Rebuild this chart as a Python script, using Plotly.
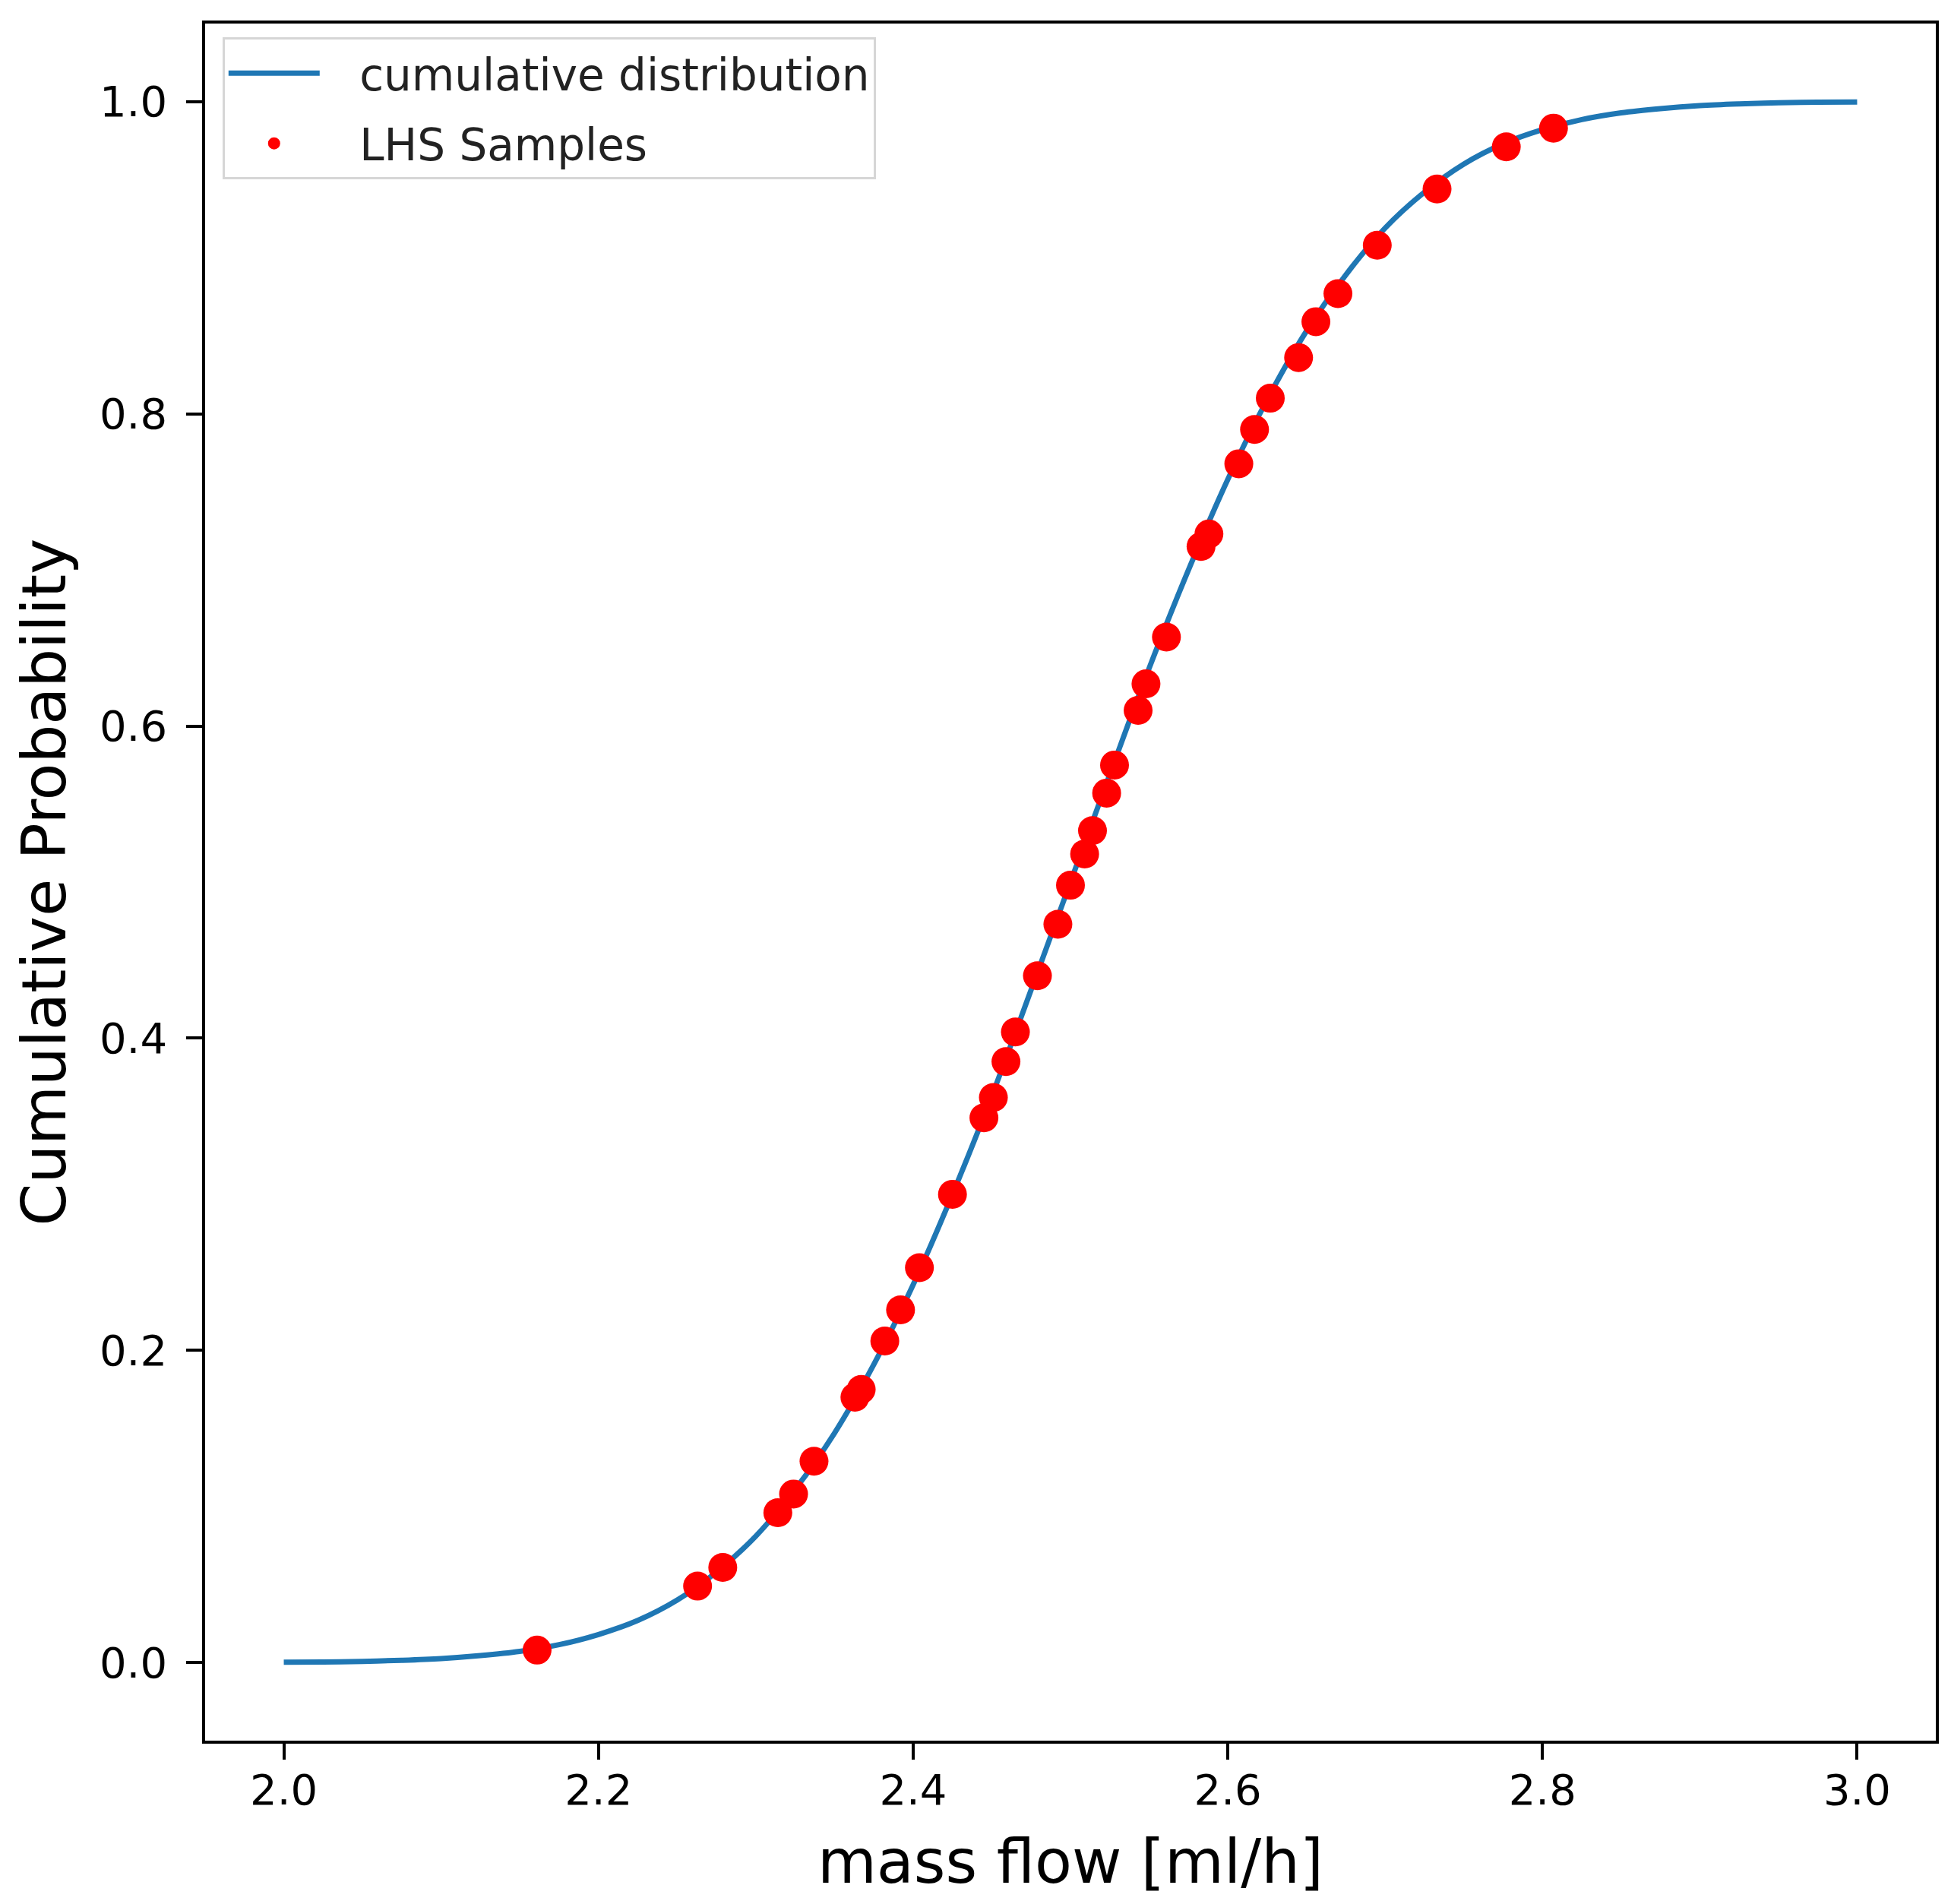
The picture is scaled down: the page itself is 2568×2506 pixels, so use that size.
import plotly.graph_objects as go

# Cumulative distribution curve
cdf_x = [2.000, 2.025, 2.050, 2.075, 2.100, 2.125, 2.150, 2.175, 2.200, 2.225,
         2.250, 2.275, 2.300, 2.325, 2.350, 2.375, 2.400, 2.425, 2.450, 2.475,
         2.500, 2.525, 2.550, 2.575, 2.600, 2.625, 2.650, 2.675, 2.700, 2.725,
         2.750, 2.775, 2.800, 2.825, 2.850, 2.875, 2.900, 2.925, 2.950, 2.975,
         3.000]
cdf_y = [0.0002, 0.0004, 0.0008, 0.0015, 0.0026, 0.0045, 0.0072, 0.0115, 0.018, 0.027,
         0.040, 0.058, 0.081, 0.111, 0.147, 0.191, 0.242, 0.300, 0.363, 0.431,
         0.500, 0.569, 0.637, 0.700, 0.758, 0.809, 0.853, 0.889, 0.919, 0.942,
         0.960, 0.973, 0.982, 0.9885, 0.9928, 0.9955, 0.9974, 0.9985, 0.9992, 0.9996,
         0.9998]

# LHS samples
lhs_x = [2.161, 2.263, 2.279, 2.314, 2.324, 2.337, 2.363, 2.367, 2.382, 2.392,
         2.404, 2.425, 2.445, 2.451, 2.459, 2.465, 2.479, 2.492, 2.500, 2.509,
         2.514, 2.523, 2.528, 2.543, 2.548, 2.561, 2.583, 2.588, 2.607, 2.617,
         2.627, 2.645, 2.656, 2.670, 2.695, 2.733, 2.777, 2.807]
lhs_y = [0.008, 0.049, 0.061, 0.096, 0.108, 0.129, 0.170, 0.175, 0.206, 0.226,
         0.253, 0.300, 0.349, 0.362, 0.385, 0.404, 0.440, 0.473, 0.498, 0.518,
         0.533, 0.557, 0.575, 0.610, 0.627, 0.657, 0.715, 0.723, 0.768, 0.790,
         0.810, 0.836, 0.859, 0.877, 0.908, 0.944, 0.971, 0.983]

x_ticks = [2.0, 2.2, 2.4, 2.6, 2.8, 3.0]
x_tick_labels = ["2.0", "2.2", "2.4", "2.6", "2.8", "3.0"]
y_ticks = [0.0, 0.2, 0.4, 0.6, 0.8, 1.0]
y_tick_labels = ["0.0", "0.2", "0.4", "0.6", "0.8", "1.0"]

FONT = "DejaVu Sans"
GAP = "\u2002\u00a0"  # gap between legend symbol and label

fig = go.Figure()
fig.add_trace(go.Scatter(
    x=cdf_x, y=cdf_y, mode="lines", name=GAP + "cumulative distribution",
    legendgroup="a",
    line=dict(color="#1f77b4", width=7, shape="spline"),
))
fig.add_trace(go.Scatter(
    x=lhs_x, y=lhs_y, mode="markers", name=GAP + "LHS Samples",
    legendgroup="b",
    marker=dict(color="#ff0000", size=38, line=dict(width=0)),
))

axis_common = dict(
    showgrid=False, zeroline=False, showline=True, linecolor="black", linewidth=3.5,
    mirror=True, ticks="outside", ticklen=21, tickwidth=3.5, tickcolor="black",
    tickfont=dict(family=FONT, size=56, color="black"),
)

fig.update_layout(
    width=2568, height=2506,
    margin=dict(l=262, r=28, t=23, b=223),
    paper_bgcolor="white", plot_bgcolor="white",
    font=dict(family=FONT, color="black"),
    showlegend=True,
    legend=dict(
        x=0.01, y=0.992, xanchor="left", yanchor="top",
        bgcolor="white", bordercolor="#d6d6d6", borderwidth=3,
        font=dict(family=FONT, size=58, color="#222222"),
        itemwidth=120, itemsizing="trace",
        traceorder="grouped", tracegroupgap=14,
    ),
    xaxis=dict(
        range=[1.95, 3.05], tickvals=x_ticks, ticktext=x_tick_labels,
        ticklabelstandoff=-8,
        title=dict(text="mass flow [ml/h]", font=dict(family=FONT, size=80, color="black"), standoff=36),
        **axis_common,
    ),
    yaxis=dict(
        range=[-0.05, 1.05], tickvals=y_ticks, ticktext=y_tick_labels,
        ticklabelstandoff=14,
        title=dict(text="Cumulative Probability", font=dict(family=FONT, size=80, color="black"), standoff=19),
        **axis_common,
    ),
)

fig.write_html("out.html")
